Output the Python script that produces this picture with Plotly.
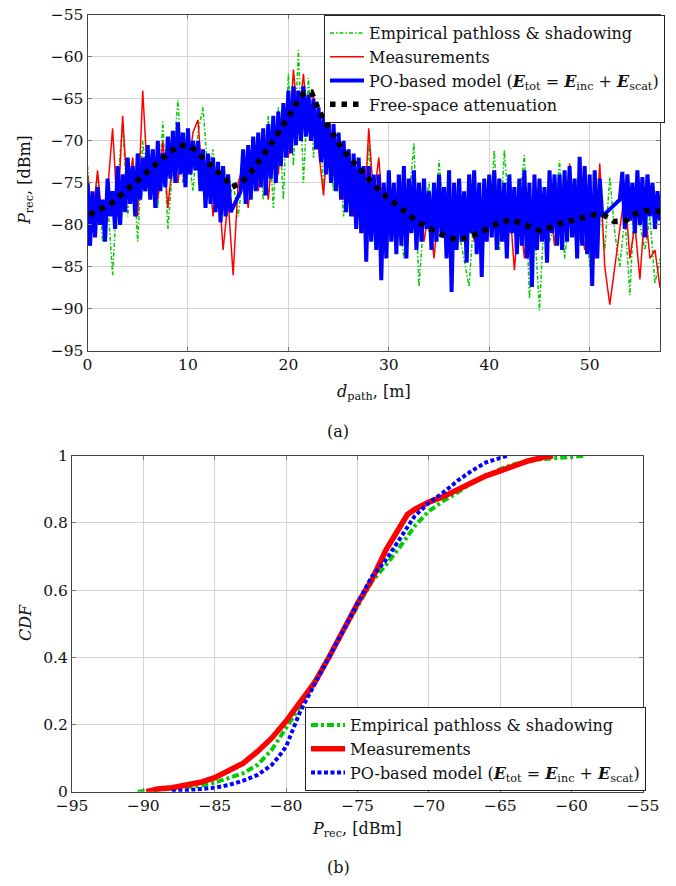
import numpy as np
import plotly.graph_objects as go

# ---------------- (a) received power along the path ----------------
# PO model sampled every 0.25 m, measurements / empirical every 0.5 m
d_po = np.round(np.arange(0, 57.001, 0.25), 2)
d_meas = np.round(np.arange(0, 57.001, 0.5), 2)

po_model = [
    -75, -82.5, -76, -81.5, -75.5, -80, -77, -82,
    -74.5, -79, -76, -80.5, -73, -80, -74, -78.5,
    -72, -77.5, -73, -79, -71.5, -77, -72, -76,
    -70.5, -77, -71, -78, -70, -76, -71.5, -75.5,
    -69.5, -74.5, -68.8, -75, -67.8, -74, -69, -75.5,
    -68.5, -74, -70, -73.5, -70, -76, -71, -78,
    -71.5, -77.5, -72, -78.5, -72.5, -79.7, -73, -79,
    -74, -78.5, None, None, None, -76, -71, -77.5,
    -70.5, -77, -69.5, -76, -69, -75.5, -68.5, -76.5,
    -68, -74.5, -67, -75, -66.5, -73, -65.5, -72,
    -64, -71.5, -63.5, -70.5, -64, -70, -63.5, -69.5,
    -64.5, -70, -65, -71, -66, -72.5, -67, -74,
    -67.5, -75, -68, -76, -69, -77, -70, -78.5,
    -71, -79, -71.5, -80.5, -72, -81, -73, -84.4,
    -73, -82, -74, -83, -74, -86.6, -75, -84,
    -73.5, -82, -75, -83.5, -74, -82.5, -73, -84,
    -74.5, -81, -73.5, -83, -75, -82, -74.5, -80.5,
    -76, -83, -75, -82, -74, -81.5, -75.5, -84,
    -73.5, -88, -75, -83, -74.5, -82, -76, -84.5,
    -74, -81, -73.5, -83.5, -75, -86.2, -74.5, -82,
    -74, -81.5, -73.5, -83, -74.5, -82, -75, -84,
    -74, -81, -75.5, -83.5, -74.5, -82.5, -73.5, -84,
    -75, -87.4, -74, -83, -74.5, -82, -75.5, -84.5,
    -73.5, -81, -74, -82.5, -74, -83, -73.5, -82,
    -73, -81.5, -74.5, -84, -71.9, -82.5, -73, -83.5,
    -74, -87.3, -73.5, -84, -74.5, -79, None, None,
    None, None, None, None, -77, -73.7, -80.5, -74,
    -79.5, -75, -81, -73.5, -80, -74.3, -81.5, -74,
    -79, -75, -80.5, -76,
    -79.5,
]

measurements = [
    -74, -79.5, -73.5, -80, -76, -68.5, -79, -67, -77, -72,
    -79, -64, -75, -71, -77, -70, -78, -72, -75, -70,
    -74, -69, -67.5, -76, -72, -79, -74, -83, -77, -86,
    -75, -73, -78, -71, -76, -69.5, -77, -70, -74, -66,
    -72, -61.5, -68, -62, -69, -64.5, -71, -76.5, -68, -74,
    -70, -77, -71.5, -79, -73, -80.5, -68.5, -77, -72, -80,
    -74, -79, -75.5, -81, -77, -80.5, -76, -82, -78, -84,
    -77.5, -81, -74, -82, -78, -80.5, -76, -82, -78, -81,
    -76.5, -80, -75, -82, -77, -85.4, -78, -84, -76, -82,
    -79, -81, -77, -82.5, -76, -80, -72.7, -81, -77, -83,
    -78, -84, -72.7, -85, -89.5, None, None, -76, -84, -80,
    -86.5, -78, -84, -83, -87.5,
]

empirical = [
    -73, -80, -74, -82, -77, -86, -75, -68, -79, -72,
    -82, -70, -76, -72, -78, -67.7, -80.5, -73, -65.1, -75,
    -71, -76, -69, -66, -74, -71, -78, -73, -77.5, -75,
    -79, -74, -76, -72, -70, -77, -67, -78, -66, -77,
    -62, -73, -59.2, -75, -62.5, -72, -66, -75.5, -69, -76,
    -70.5, -79, -71, -78, -73, -80, -70.5, -79, -74, -82,
    -76, -80.5, -78, -84, -77, -70.3, -87.4, -79, -75, -82,
    -72.3, -80, -83, -77, -81, -84, -87.4, -78, -82, -76,
    -80, -71.1, -83, -71.1, -79, -81, -77, -71.7, -88.8, -80,
    -90.2, -78, -82, -80, -72.3, -84, -79, -76, -82, -78,
    -85, -80, -77, -83, -74.3, -81, -85, -79, -88.4, -76,
    -80, -83, -79, -87, -84,
]

fs_d = [0.2, 1.3, 2.3, 3.1, 4.0, 4.85, 5.7, 6.5, 7.35, 8.2, 9.1, 10.3, 11.2, 12.0,
        12.8, 13.6, 14.4, 15.3, 16.1, 16.8, 17.4, 18.1, 18.7, 19.3, 19.9, 20.5, 21.0,
        21.6, 22.3, 23.0, 23.7, 24.3, 24.9, 25.5, 26.3, 27.0, 27.7, 28.5, 29.3, 30.2,
        31.0, 31.9, 32.8, 33.8, 34.8, 35.9, 36.9, 38.0, 39.0, 40.0, 41.0, 42.1, 43.2,
        44.2, 45.0, 46.1, 47.1, 48.2, 49.3, 50.4, 51.5, 52.4, 53.6, 54.5, 55.6, 56.6, 57.0]
fs_att = [-78.8, -78.2, -77.5, -76.7, -75.8, -74.8, -73.9, -73.1, -72.2, -71.3, -70.5,
          -70.7, -71.7, -72.5, -73.5, -74.4, -75.5, -75.0, -74.0, -72.9, -71.9, -70.7,
          -69.6, -68.5, -67.3, -66.2, -65.0, -64.3, -64.2, -66.3, -67.8, -69.0, -70.1,
          -71.2, -72.3, -73.3, -74.2, -75.2, -76.2, -77.1, -78.0, -78.8, -79.6, -80.3,
          -80.9, -81.5, -81.8, -81.5, -80.9, -80.4, -79.7, -79.4, -79.8, -80.4, -80.7,
          -80.3, -79.8, -79.5, -79.1, -78.8, -78.9, -79.6, -79.5, -78.7, -78.3, -78.4, -78.4]

# ---------------- (b) CDFs of received power ----------------
cdf_emp_p = [-90.4, -89, -88, -87, -86, -85, -84, -83, -82, -81, -80, -79, -78, -77, -76,
             -75, -74, -73, -72, -71, -70, -69, -68, -67, -66, -65, -64, -63, -62, -61,
             -60, -59]
cdf_emp = [0.0, 0.005, 0.008, 0.012, 0.018, 0.027, 0.04, 0.055, 0.08, 0.125, 0.19, 0.255,
           0.33, 0.405, 0.48, 0.555, 0.625, 0.675, 0.73, 0.79, 0.835, 0.865, 0.89, 0.92,
           0.94, 0.96, 0.975, 0.985, 0.99, 0.993, 0.997, 1.0]

cdf_meas_p = [-89.8, -89, -88, -87, -86, -85, -84, -83, -82, -81, -80, -79, -78, -77, -76,
              -75, -74, -73, -72, -71.5, -71, -70, -69, -68, -67, -66, -65, -64, -63, -62,
              -61.3]
cdf_meas = [0.0, 0.008, 0.012, 0.018, 0.028, 0.042, 0.062, 0.085, 0.12, 0.16, 0.21, 0.265,
            0.325, 0.40, 0.48, 0.56, 0.63, 0.72, 0.79, 0.825, 0.84, 0.862, 0.878, 0.90,
            0.92, 0.94, 0.955, 0.97, 0.985, 0.995, 1.0]

cdf_po_p = [-88, -87, -86, -85, -84, -83, -82, -81, -80.5, -80, -79.5, -79, -78, -77, -76,
            -75, -74, -73, -72, -71, -70, -69, -68, -67, -66, -65, -64.5]
cdf_po = [0.0, 0.005, 0.008, 0.012, 0.02, 0.033, 0.05, 0.08, 0.105, 0.135, 0.185, 0.24,
          0.32, 0.40, 0.48, 0.56, 0.64, 0.69, 0.755, 0.82, 0.86, 0.89, 0.925, 0.955, 0.98,
          0.995, 1.0]

GREEN = "#00cc00"
RED = "#ff0000"
BLUE = "#0000ff"
FONT = "DejaVu Serif, Liberation Serif, serif"
PO_NAME = ("PO-based model (<b><i>E</i></b><sub>tot</sub> = <b><i>E</i></b><sub>inc</sub>"
           " + <b><i>E</i></b><sub>scat</sub>)")

# the page body keeps its default 8px margin, so the figure is drawn 8px in
OFF = 8
W, H = 660, 870


def px(v):
    return (v - OFF) / W


def py(v):
    return 1 - (v - OFF) / H


fig = go.Figure()

# top panel
fig.add_trace(go.Scatter(x=d_meas, y=empirical, mode="lines", name="Empirical pathloss & shadowing",
                         line=dict(color=GREEN, width=1.5, dash="4px,2px,1.5px,2px"),
                         xaxis="x", yaxis="y", legend="legend"))
fig.add_trace(go.Scatter(x=d_meas, y=measurements, mode="lines", name="Measurements",
                         line=dict(color=RED, width=1.5), connectgaps=True,
                         xaxis="x", yaxis="y", legend="legend"))
fig.add_trace(go.Scatter(x=d_po, y=po_model, mode="lines", name=PO_NAME,
                         line=dict(color=BLUE, width=4), connectgaps=True,
                         xaxis="x", yaxis="y", legend="legend"))
fig.add_trace(go.Scatter(x=fs_d, y=fs_att, mode="lines", name="Free-space attenuation",
                         line=dict(color="black", width=5.5, dash="5.5px,6px"),
                         xaxis="x", yaxis="y", legend="legend"))

# bottom panel
fig.add_trace(go.Scatter(x=cdf_emp_p, y=cdf_emp, mode="lines", name="Empirical pathloss & shadowing",
                         line=dict(color=GREEN, width=4, dash="7px,3px,3px,3px"),
                         xaxis="x2", yaxis="y2", legend="legend2"))
fig.add_trace(go.Scatter(x=cdf_meas_p, y=cdf_meas, mode="lines", name="Measurements",
                         line=dict(color=RED, width=5.5),
                         xaxis="x2", yaxis="y2", legend="legend2"))
fig.add_trace(go.Scatter(x=cdf_po_p, y=cdf_po, mode="lines", name=PO_NAME,
                         line=dict(color=BLUE, width=4, dash="4px,2.5px"),
                         xaxis="x2", yaxis="y2", legend="legend2"))

axis_style = dict(showline=True, linecolor="#444444", linewidth=1, mirror="ticks",
                  ticks="inside", ticklen=4, tickcolor="#777777", showgrid=True,
                  gridcolor="#d4d4d4", gridwidth=1, zeroline=False, automargin=False,
                  ticklabeloverflow="allow",
                  tickfont=dict(family=FONT, size=15.5, color="#111111"))

legend_style = dict(bgcolor="white", bordercolor="#222222", borderwidth=1,
                    font=dict(family=FONT, size=16, color="#111111"),
                    itemwidth=34, tracegroupgap=0)

fig.update_layout(
    width=W, height=H,
    margin=dict(l=0, r=0, t=0, b=0, autoexpand=False),
    paper_bgcolor="white", plot_bgcolor="white",
    font=dict(family=FONT, size=16, color="#111111"),
    xaxis=dict(domain=[px(87.5), px(660)], anchor="y", range=[0, 57], tick0=0, dtick=10, **axis_style),
    yaxis=dict(domain=[py(350.7), py(15)], anchor="x", range=[-95, -55], dtick=5, **axis_style),
    xaxis2=dict(domain=[px(72), px(643)], anchor="y2", range=[-95, -55], dtick=5, **axis_style),
    yaxis2=dict(domain=[py(791.7), py(455.7)], anchor="x2", range=[0, 1], dtick=0.2, **axis_style),
    legend=dict(x=px(665), y=py(15), xanchor="right", yanchor="top", **legend_style),
    legend2=dict(x=px(646), y=py(791), xanchor="right", yanchor="bottom", **legend_style),
)

annots = [
    dict(text="<i>P</i><sub>rec</sub>, [dBm]", x=px(25), y=py(180), textangle=-90),
    dict(text="<i>d</i><sub>path</sub>, [m]", x=px(374), y=py(392), textangle=0),
    dict(text="(a)", x=px(338), y=py(432), textangle=0),
    dict(text="<i>CDF</i>", x=px(25), y=py(623), textangle=-90),
    dict(text="<i>P</i><sub>rec</sub>, [dBm]", x=px(357), y=py(829), textangle=0),
    dict(text="(b)", x=px(338), y=py(867), textangle=0),
]
for a in annots:
    fig.add_annotation(xref="paper", yref="paper", showarrow=False,
                       xanchor="center", yanchor="middle",
                       font=dict(family=FONT, size=16, color="#111111"), **a)

fig.write_html("out.html")
